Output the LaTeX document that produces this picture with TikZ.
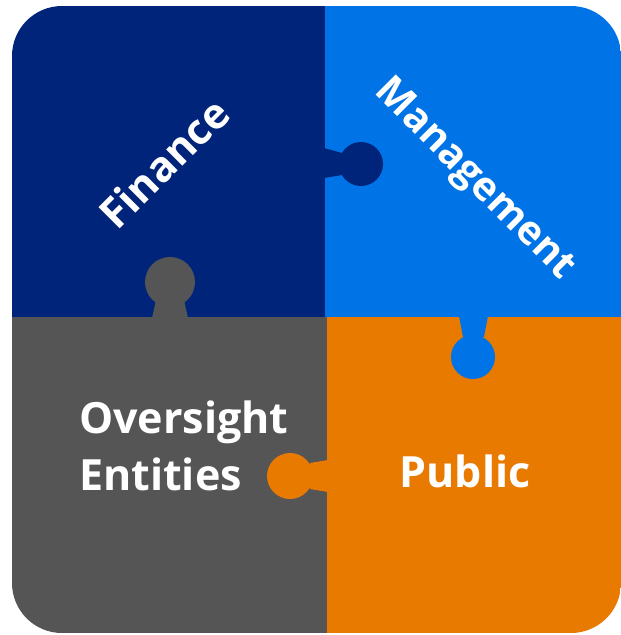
\documentclass[tikz,border=0pt]{standalone}
\usepackage{fontspec}
\setmainfont{Open Sans}
\usepackage{tikz}
\definecolor{finnavy}{HTML}{00247A}
\definecolor{mgmtblue}{HTML}{0073E6}
\definecolor{oversgray}{HTML}{555555}
\definecolor{pubgold}{HTML}{E97A00}

\begin{document}
\begin{tikzpicture}[
        x=1pt, y=-1pt,
        word/.style={text=white, font=\fontsize{42}{57}\selectfont\bfseries, inner sep=0pt}
    ]
        \useasboundingbox (0,0) rectangle (621,635);

        % the four quarters, clipped to the rounded square
        \begin{scope}
            \clip[rounded corners=50pt] (12,6) rectangle (621,633);
            \fill[finnavy] (12,6) rectangle (325,317);
            \fill[mgmtblue] (325,6) rectangle (621,317);
            \fill[oversgray] (12,317) rectangle (327,633);
            \fill[pubgold] (327,317) rectangle (621,633);
        \end{scope}

        % tabs
        \fill[finnavy] (324,148) -- (342,153) -- (342,175) -- (324,178) -- cycle;
        \fill[finnavy] (361,164) circle (22);
        \fill[oversgray] (152,318) -- (156,300) -- (184,300) -- (188,318) -- cycle;
        \fill[oversgray] (170,282) circle (25);
        \fill[mgmtblue] (459,316) -- (488,316) -- (484,337) -- (463,337) -- cycle;
        \fill[mgmtblue] (473,357) circle (22);
        \fill[pubgold] (328,460) -- (310,463) -- (310,489) -- (328,492) -- cycle;
        \fill[pubgold] (290,476) circle (23);

        % labels
        \node[word, rotate=45] (finance) at (164,163) {Finance};
        \node[word, rotate=-45, font=\fontsize{40}{57}\selectfont\bfseries] (mgmt) at (474,180) {Management};
        \node[word, anchor=west, align=left, font=\fontsize{43}{57}\selectfont\bfseries] (overs) at (79,446) {Oversight\\Entities};
        \node[word, font=\fontsize{43}{57}\selectfont\bfseries] (public) at (465,471) {Public};
    \end{tikzpicture}
\end{document}
